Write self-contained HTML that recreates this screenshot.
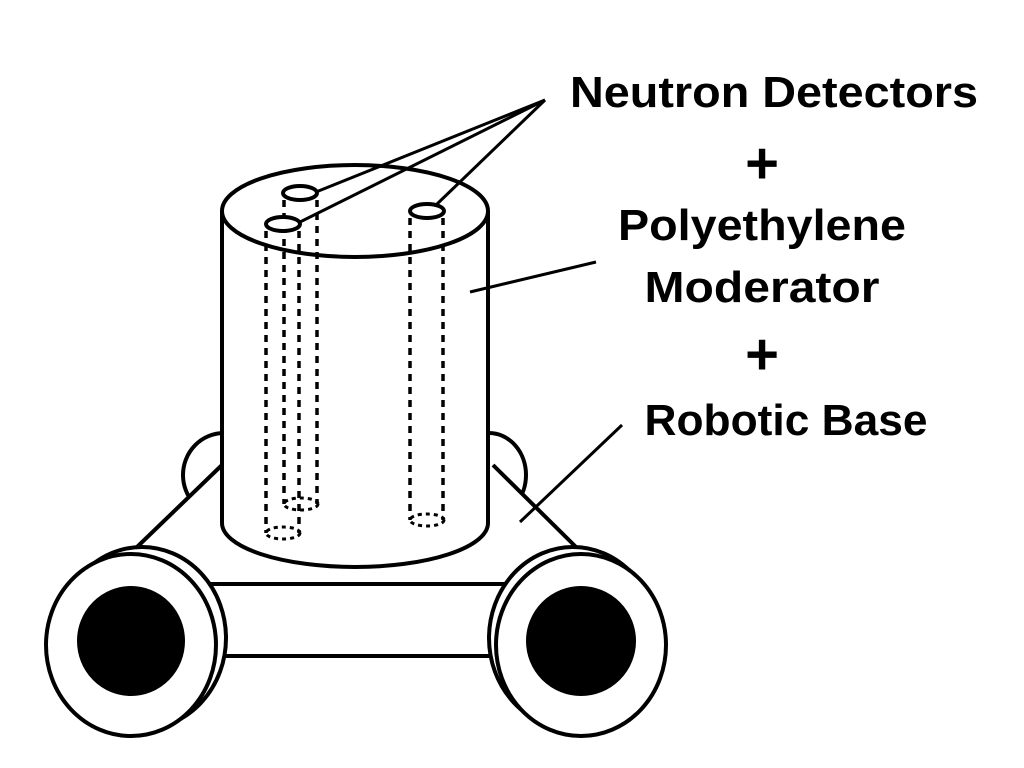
<!DOCTYPE html>
<html><head><style>body{margin:0;background:#fff}svg{display:block}</style></head><body>
<svg width="1024" height="768" viewBox="0 0 1024 768" xmlns="http://www.w3.org/2000/svg" fill="none" stroke="#000" stroke-width="4">
<!-- side bumps -->
<ellipse cx="224" cy="475" rx="41" ry="42" fill="#fff"/>
<ellipse cx="489" cy="475" rx="37" ry="42" fill="#fff"/>
<!-- trapezoid base -->
<path d="M220 467 L138 545 L575 545 L495 467 Z" fill="#fff" stroke="none"/>
<line x1="222" y1="465" x2="136" y2="548"/>
<line x1="493" y1="465" x2="577" y2="548"/>
<!-- axle -->
<rect x="200" y="584" width="310" height="72" fill="#fff"/>
<!-- left wheel -->
<ellipse cx="142" cy="638" rx="84" ry="91" fill="#fff"/>
<ellipse cx="131" cy="645" rx="85" ry="91" fill="#fff"/>
<ellipse cx="131" cy="641" rx="52" ry="53" fill="#000"/>
<!-- right wheel -->
<ellipse cx="573" cy="638" rx="84" ry="91" fill="#fff"/>
<ellipse cx="581" cy="645" rx="85" ry="91" fill="#fff"/>
<ellipse cx="581" cy="641" rx="53" ry="53" fill="#000"/>
<!-- cylinder -->
<path d="M222 211 L222 523 A133 44 0 0 0 488 523 L488 211" fill="#fff"/>
<ellipse cx="355" cy="211" rx="133" ry="46" fill="#fff"/>
<!-- detectors -->
<g stroke-dasharray="7 6" stroke-width="3.5">
<line x1="284" y1="200" x2="284" y2="504"/><line x1="317" y1="200" x2="317" y2="504"/>
<line x1="266" y1="231" x2="266" y2="533"/><line x1="299" y1="231" x2="299" y2="533"/>
<line x1="410" y1="218" x2="410" y2="520"/><line x1="443" y1="218" x2="443" y2="520"/>
</g>
<g stroke-dasharray="4 4" stroke-width="3">
<ellipse cx="301" cy="504" rx="17" ry="6"/>
<ellipse cx="283" cy="533" rx="17" ry="6"/>
<ellipse cx="427" cy="520" rx="17" ry="6"/>
</g>
<ellipse cx="300" cy="193" rx="17" ry="7" fill="#fff"/>
<ellipse cx="283" cy="224" rx="17" ry="7" fill="#fff"/>
<ellipse cx="427" cy="211" rx="17" ry="7" fill="#fff"/>
<!-- leaders -->
<g stroke-width="3">
<line x1="545" y1="100" x2="316" y2="192"/>
<line x1="545" y1="100" x2="300" y2="222"/>
<line x1="545" y1="100" x2="436" y2="205"/>
<line x1="596" y1="262" x2="470" y2="292"/>
<line x1="622" y1="425" x2="520" y2="522"/>
</g>
<g fill="#000" stroke="none" font-family="Liberation Sans, sans-serif" font-weight="bold" font-size="44" text-anchor="middle">
<text x="774" y="107" textLength="408" lengthAdjust="spacingAndGlyphs">Neutron Detectors</text>
<text x="762" y="183" font-size="58">+</text>
<text x="762" y="240" textLength="288" lengthAdjust="spacingAndGlyphs">Polyethylene</text>
<text x="762" y="302" textLength="235" lengthAdjust="spacingAndGlyphs">Moderator</text>
<text x="762" y="374" font-size="58">+</text>
<text x="786" y="435" textLength="283" lengthAdjust="spacingAndGlyphs">Robotic Base</text>
</g>
</svg>
</body></html>
